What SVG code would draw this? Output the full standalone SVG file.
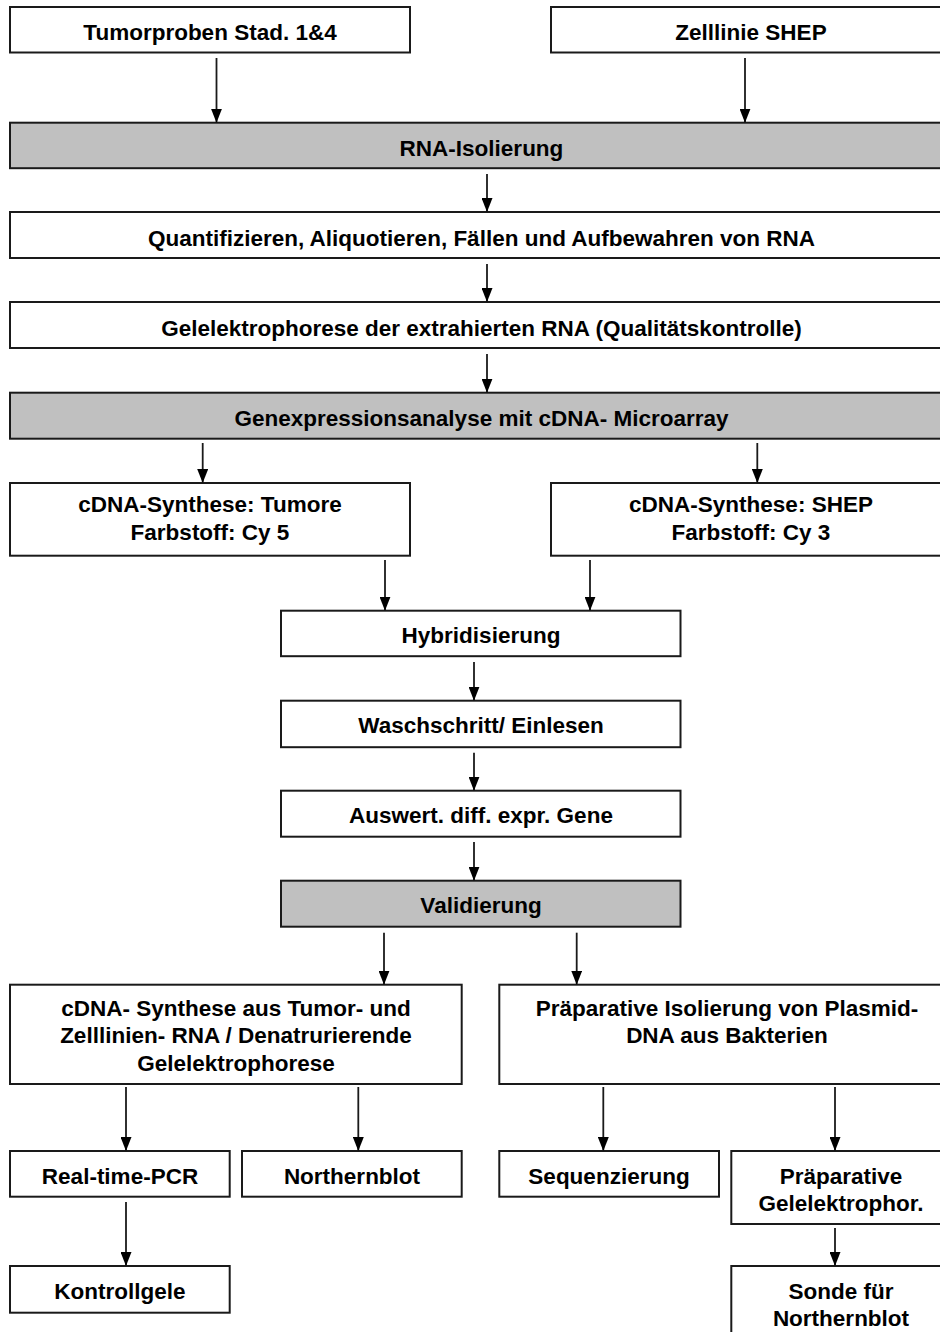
<svg xmlns="http://www.w3.org/2000/svg" width="940" height="1332" viewBox="0 0 940 1332">
<defs>
<style>
.b{fill:#ffffff;stroke:#1a1a1a;stroke-width:2}
.g{fill:#c0c0c0;stroke:#1a1a1a;stroke-width:2}
text{font-family:"Liberation Sans",Arial,sans-serif;font-weight:bold;font-size:22.5px;fill:#000;text-anchor:middle}
.c line{stroke:#1a1a1a;stroke-width:1.8;marker-end:url(#ah)}
</style>
<marker id="ah" markerUnits="userSpaceOnUse" viewBox="0 0 14 11" markerWidth="14" markerHeight="11" refX="14" refY="5.5" orient="auto">
<path d="M0,0 L14,5.5 L0,11 z" fill="#000"/>
</marker>
</defs>
<rect width="940" height="1332" fill="#ffffff"/>

<g id="n1"><rect class="b" x="10" y="7" width="400" height="45.5"/><text x="210" y="39.5">Tumorproben Stad. 1&amp;4</text></g>
<g id="n2"><rect class="b" x="551" y="7" width="400" height="45.5"/><text x="751" y="39.5">Zelllinie SHEP</text></g>
<g id="n3"><rect class="g" x="10" y="122.7" width="943" height="45.5"/><text x="481.5" y="156">RNA-Isolierung</text></g>
<g id="n4"><rect class="b" x="10" y="212" width="943" height="46"/><text x="481.5" y="245.5">Quantifizieren, Aliquotieren, Fällen und Aufbewahren von RNA</text></g>
<g id="n5"><rect class="b" x="10" y="302" width="943" height="46"/><text x="481.5" y="335.5">Gelelektrophorese der extrahierten RNA (Qualitätskontrolle)</text></g>
<g id="n6"><rect class="g" x="10" y="392.7" width="943" height="46"/><text x="481.5" y="426">Genexpressionsanalyse mit cDNA- Microarray</text></g>
<g id="n7"><rect class="b" x="10" y="483" width="400" height="72.7"/><text x="210" y="511.7">cDNA-Synthese: Tumore</text><text x="210" y="540">Farbstoff: Cy 5</text></g>
<g id="n8"><rect class="b" x="551" y="483" width="400" height="72.7"/><text x="751" y="511.7">cDNA-Synthese: SHEP</text><text x="751" y="540">Farbstoff: Cy 3</text></g>
<g id="n9"><rect class="b" x="281" y="610.7" width="399.5" height="45.5"/><text x="481" y="643.3">Hybridisierung</text></g>
<g id="n10"><rect class="b" x="281" y="700.7" width="399.5" height="46.5"/><text x="481" y="732.7">Waschschritt/ Einlesen</text></g>
<g id="n11"><rect class="b" x="281" y="790.7" width="399.5" height="46"/><text x="481" y="822.7">Auswert. diff. expr. Gene</text></g>
<g id="n12"><rect class="g" x="281" y="880.7" width="399.5" height="46"/><text x="481" y="913">Validierung</text></g>
<g id="n13"><rect class="b" x="10" y="984.7" width="451.7" height="99.3"/><text x="236" y="1016">cDNA- Synthese aus Tumor- und</text><text x="236" y="1043.3">Zelllinien- RNA / Denatrurierende</text><text x="236" y="1070.7">Gelelektrophorese</text></g>
<g id="n14"><rect class="b" x="499.3" y="984.7" width="456" height="99.3"/><text x="727" y="1016">Präparative Isolierung von Plasmid-</text><text x="727" y="1043.3">DNA aus Bakterien</text></g>
<g id="n15"><rect class="b" x="10" y="1151" width="219.7" height="45.7"/><text x="120" y="1184">Real-time-PCR</text></g>
<g id="n16"><rect class="b" x="242" y="1151" width="219.7" height="45.7"/><text x="352" y="1184">Northernblot</text></g>
<g id="n17"><rect class="b" x="10" y="1266" width="219.7" height="46.7"/><text x="120" y="1299">Kontrollgele</text></g>
<g id="n18"><rect class="b" x="499.3" y="1151" width="219.7" height="45.7"/><text x="609" y="1184">Sequenzierung</text></g>
<g id="n19"><rect class="b" x="731.3" y="1151" width="220" height="73"/><text x="841" y="1184">Präparative</text><text x="841" y="1210.7">Gelelektrophor.</text></g>
<g id="n20"><rect class="b" x="731.3" y="1266" width="220" height="73"/><text x="841" y="1299.3">Sonde für</text><text x="841" y="1326">Northernblot</text></g>

<g id="connectors" class="c">
<line x1="216.5" y1="58" x2="216.5" y2="122.7"/>
<line x1="745" y1="58" x2="745" y2="122.7"/>
<line x1="487" y1="174" x2="487" y2="212"/>
<line x1="487" y1="264" x2="487" y2="302"/>
<line x1="487" y1="354" x2="487" y2="392.7"/>
<line x1="202.7" y1="443" x2="202.7" y2="483"/>
<line x1="757.3" y1="443" x2="757.3" y2="483"/>
<line x1="385" y1="560" x2="385" y2="610.7"/>
<line x1="590" y1="560" x2="590" y2="610.7"/>
<line x1="474" y1="662" x2="474" y2="700.7"/>
<line x1="474" y1="752.7" x2="474" y2="790.7"/>
<line x1="474" y1="842" x2="474" y2="880.7"/>
<line x1="384" y1="932.7" x2="384" y2="984.7"/>
<line x1="576.7" y1="932.7" x2="576.7" y2="984.7"/>
<line x1="126" y1="1087" x2="126" y2="1151"/>
<line x1="358.3" y1="1087" x2="358.3" y2="1151"/>
<line x1="603.3" y1="1087" x2="603.3" y2="1151"/>
<line x1="835" y1="1087" x2="835" y2="1151"/>
<line x1="126" y1="1202" x2="126" y2="1266"/>
<line x1="835" y1="1228" x2="835" y2="1266"/>
</g>
</svg>
